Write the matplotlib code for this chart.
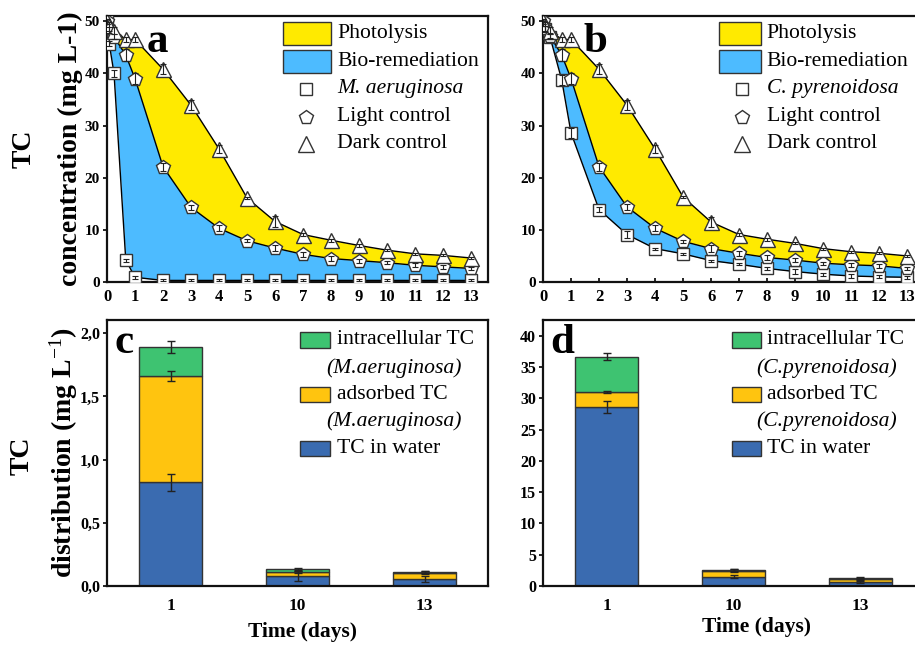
import numpy as np
import matplotlib
matplotlib.use("Agg")
import matplotlib.pyplot as plt
from matplotlib.patches import Rectangle
from matplotlib import ticker

plt.rcParams['font.family'] = ['Liberation Serif', 'DejaVu Serif']
plt.rcParams['mathtext.fontset'] = 'custom'
plt.rcParams['mathtext.rm'] = 'Liberation Serif'
plt.rcParams['mathtext.it'] = 'Liberation Serif:italic'
plt.rcParams['mathtext.bf'] = 'Liberation Serif:bold'

# sampling times (days)
t = [0, 0.08, 0.25, 0.67, 1, 2, 3, 4, 5, 6, 7, 8, 9, 10, 11, 12, 13]

# panel a - M. aeruginosa
dark_a = [50.0, 49.0, 48.2, 46.5, 46.5, 40.8, 33.9, 25.5, 16.1, 11.6, 9.1, 8.0, 7.0, 6.1, 5.4, 5.1, 4.6]
dark_a_err = [0.5, 0.8, 0.6, 0.5, 0.5, 1.0, 1.0, 0.8, 0.2, 1.0, 0.3, 0.3, 0.2, 0.2, 0.2, 0.2, 0.2]
light_a = [50.0, 48.3, 47.0, 43.5, 39.0, 22.1, 14.3, 10.3, 7.9, 6.5, 5.3, 4.5, 4.1, 3.7, 3.2, 2.9, 2.6]
light_a_err = [0.5, 0.5, 0.5, 1.2, 1.0, 0.8, 0.5, 0.6, 0.3, 0.6, 0.5, 0.5, 0.4, 0.3, 0.4, 0.4, 0.3]
alga_a = [50.0, 45.7, 40.0, 4.2, 0.9, 0.3, 0.3, 0.3, 0.3, 0.3, 0.3, 0.3, 0.3, 0.3, 0.3, 0.3, 0.3]
alga_a_err = [0.5, 0.5, 0.6, 0.3, 0.3, 0.2, 0.2, 0.2, 0.2, 0.2, 0.2, 0.2, 0.2, 0.2, 0.2, 0.2, 0.2]

# panel b - C. pyrenoidosa
dark_b = [50.0, 49.0, 48.2, 46.5, 46.5, 40.8, 33.9, 25.5, 16.3, 11.5, 9.1, 8.2, 7.4, 6.4, 5.8, 5.5, 5.0]
dark_b_err = [0.5, 0.8, 0.6, 0.5, 0.5, 1.0, 1.0, 0.8, 0.2, 1.0, 0.3, 0.3, 0.2, 0.2, 0.2, 0.2, 0.2]
light_b = [50.0, 48.5, 47.2, 43.5, 39.0, 22.1, 14.4, 10.3, 7.8, 6.4, 5.5, 4.7, 4.2, 3.6, 3.3, 3.1, 2.6]
light_b_err = [0.5, 0.5, 0.5, 1.2, 1.0, 0.8, 0.5, 0.6, 0.3, 0.6, 0.5, 0.5, 0.4, 0.3, 0.4, 0.4, 0.3]
alga_b = [49.5, 48.5, 47.0, 38.7, 28.6, 13.9, 9.1, 6.4, 5.4, 4.1, 3.4, 2.6, 2.0, 1.5, 1.15, 1.0, 0.9]
alga_b_err = [0.5, 0.5, 0.5, 1.0, 1.0, 0.4, 0.6, 0.2, 0.2, 0.2, 0.2, 0.3, 0.4, 0.3, 0.4, 0.3, 0.3]

# TC distribution (panels c, d)
days = ['1', '10', '13']
c_water = [0.82, 0.079, 0.055]
c_water_err = [0.07, 0.04, 0.025]
c_ads = [0.84, 0.034, 0.05]
c_ads_err = [0.04, 0.01, 0.01]
c_intra = [0.23, 0.019, 0.004]
c_intra_err = [0.05, 0.01, 0.01]

d_water = [28.6, 1.5, 0.6]
d_water_err = [0.95, 0.3, 0.2]
d_ads = [2.4, 0.95, 0.47]
d_ads_err = [0.2, 0.2, 0.1]
d_intra = [5.6, 0.1, 0.26]
d_intra_err = [0.55, 0.1, 0.1]

YELLOW = '#FFEA00'
BLUE = '#4DBBFF'
BAR_GRN = '#3EC371'
BAR_YEL = '#FFC40F'
BAR_BLU = '#3A6BB0'
EDGE = '#333333'
LEG_SIZE = 15.6

W, H = 915, 645
fig = plt.figure(figsize=(W / 100, H / 100), dpi=100)


def px_axes(x0, y0, x1, y1):
    return fig.add_axes([x0 / W, 1 - y1 / H, (x1 - x0) / W, (y1 - y0) / H])


def style_axes(ax, xsize, ysize):
    for s in ax.spines.values():
        s.set_linewidth(1.6)
        s.set_color('#111111')
    ax.tick_params(axis='x', direction='in', length=3, width=1.2, labelsize=xsize, pad=5)
    ax.tick_params(axis='y', direction='out', length=3, width=1.2, labelsize=ysize, pad=2)
    for lab in ax.get_xticklabels() + ax.get_yticklabels():
        lab.set_fontweight('bold')


def top_panel(ax, dark, dark_err, light, light_err, alga, alga_err, name, letter, patch_w):
    ax.fill_between(t, light, dark, color=YELLOW, lw=0, zorder=1)
    ax.fill_between(t, alga, light, color=BLUE, lw=0, zorder=1)
    series = [(alga, alga_err, 's', 8.4), (light, light_err, 'p', 10), (dark, dark_err, '^', 10.8)]
    for y, err, m, ms in series:
        ax.plot(t, y, color='black', lw=1, zorder=2)
    for y, err, m, ms in series:
        ax.plot(t, y, ls='none', marker=m, ms=ms, mfc='white', mec=EDGE, mew=1, zorder=3)
        ax.errorbar(t, y, yerr=err, fmt='none', ecolor='#222222', elinewidth=0.8,
                    capsize=2, capthick=0.8, zorder=4)
    ax.set_xlim(0, 13.6)
    ax.set_ylim(0, 51)
    ax.set_xticks(range(0, 14))
    ax.set_yticks(range(0, 51, 10))
    style_axes(ax, 12, 11)
    ax.text(0.105, 0.975, letter, transform=ax.transAxes, fontsize=31, fontweight='bold',
            va='top', ha='left')

    # legend
    x0 = 0.462
    ax.add_patch(Rectangle((x0, 0.891), patch_w, 0.086, transform=ax.transAxes,
                           fc=YELLOW, ec=EDGE, lw=1, clip_on=False, zorder=5))
    ax.add_patch(Rectangle((x0, 0.787), patch_w, 0.086, transform=ax.transAxes,
                           fc=BLUE, ec=EDGE, lw=1, clip_on=False, zorder=5))
    tx = x0 + patch_w + 0.016
    mx = 0.522
    rows = [('Photolysis', 0.936, None), ('Bio-remediation', 0.830, None),
            (name, 0.726, 's'), ('Light control', 0.622, 'p'), ('Dark control', 0.519, '^')]
    sizes = {'s': 8.4, 'p': 10.5, '^': 11}
    for label, y, m in rows:
        ax.text(tx, y, label, transform=ax.transAxes, fontsize=LEG_SIZE, va='center', ha='left',
                style='italic' if m == 's' else 'normal', zorder=5)
        if m:
            ax.plot([mx], [y], transform=ax.transAxes, ls='none', marker=m, ms=sizes[m],
                    mfc='white', mec=EDGE, mew=1, clip_on=False, zorder=5)


def bar_panel(ax, water, water_err, ads, ads_err, intra, intra_err, name, letter,
              ymax, yticks, fmt, legend_x, text_x, sub_x):
    x = np.arange(len(days))
    water = np.array(water)
    ads = np.array(ads)
    intra = np.array(intra)
    bw = 0.5
    ax.bar(x, water, bw, color=BAR_BLU, edgecolor=EDGE, lw=1, zorder=2)
    ax.bar(x, ads, bw, bottom=water, color=BAR_YEL, edgecolor=EDGE, lw=1, zorder=2)
    ax.bar(x, intra, bw, bottom=water + ads, color=BAR_GRN, edgecolor=EDGE, lw=1, zorder=2)
    for top, err in [(water, water_err), (water + ads, ads_err), (water + ads + intra, intra_err)]:
        ax.errorbar(x, top, yerr=err, fmt='none', ecolor='#222222', elinewidth=1,
                    capsize=3, capthick=1, zorder=3)
    ax.set_xlim(-0.5, 2.5)
    ax.set_ylim(0, ymax)
    ax.set_xticks(x)
    ax.set_xticklabels(days)
    ax.set_yticks(yticks)
    ax.yaxis.set_major_formatter(ticker.FuncFormatter(fmt))
    style_axes(ax, 12.5, 11.5)
    ax.tick_params(axis='x', pad=9)
    ax.text(0.02, 0.985, letter, transform=ax.transAxes, fontsize=31, fontweight='bold',
            va='top', ha='left')

    # legend
    rows = [(BAR_GRN, 'intracellular TC', 0.925, True), (None, None, 0.820, False),
            (BAR_YEL, 'adsorbed TC', 0.720, True), (None, None, 0.618, False),
            (BAR_BLU, 'TC in water', 0.516, False)]
    for color, label, y, sub in rows:
        if color is None:
            ax.text(sub_x, y, '(' + name + ')', transform=ax.transAxes, style='italic',
                    fontsize=LEG_SIZE, va='center', ha='left')
            continue
        ax.add_patch(Rectangle((legend_x, y - 0.029), 0.078, 0.058, transform=ax.transAxes,
                               fc=color, ec=EDGE, lw=1, clip_on=False, zorder=5))
        ax.text(text_x, y, label, transform=ax.transAxes, fontsize=LEG_SIZE, va='center', ha='left')


ax_a = px_axes(107, 16, 488, 282)
top_panel(ax_a, dark_a, dark_a_err, light_a, light_a_err, alga_a, alga_a_err,
          'M. aeruginosa', 'a', 0.126)

ax_b = px_axes(543, 16, 924, 282)
top_panel(ax_b, dark_b, dark_b_err, light_b, light_b_err, alga_b, alga_b_err,
          'C. pyrenoidosa', 'b', 0.109)

ax_c = px_axes(107, 320, 488, 586)
bar_panel(ax_c, c_water, c_water_err, c_ads, c_ads_err, c_intra, c_intra_err,
          'M.aeruginosa', 'c', 2.105, np.arange(0, 2.01, 0.5),
          lambda v, p: f'{v:.1f}'.replace('.', ','), 0.507, 0.604, 0.575)

ax_d = px_axes(543, 320, 924, 586)
bar_panel(ax_d, d_water, d_water_err, d_ads, d_ads_err, d_intra, d_intra_err,
          'C.pyrenoidosa', 'd', 42.5, range(0, 41, 5),
          lambda v, p: f'{v:.0f}', 0.495, 0.588, 0.56)

# axis titles
fig.text(24 / W, 1 - 149 / H, 'TC', rotation=90, fontsize=20, fontweight='bold',
         ha='center', va='center')
fig.text(70 / W, 1 - 149 / H, 'concentration (mg L-1)', rotation=90, fontsize=20,
         fontweight='bold', ha='center', va='center')
fig.text(22 / W, 1 - 456 / H, 'TC', rotation=90, fontsize=20, fontweight='bold',
         ha='center', va='center')
fig.text(64 / W, 1 - 453 / H, r'distribution (mg L$^{-1}$)', rotation=90, fontsize=20,
         fontweight='bold', ha='center', va='center')
fig.text(302 / W, 1 - 632 / H, 'Time (days)', fontsize=15.5, fontweight='bold',
         ha='center', va='center')
fig.text(757 / W, 1 - 627 / H, 'Time (days)', fontsize=15.5, fontweight='bold',
         ha='center', va='center')

fig.savefig('out.png', dpi=100)
